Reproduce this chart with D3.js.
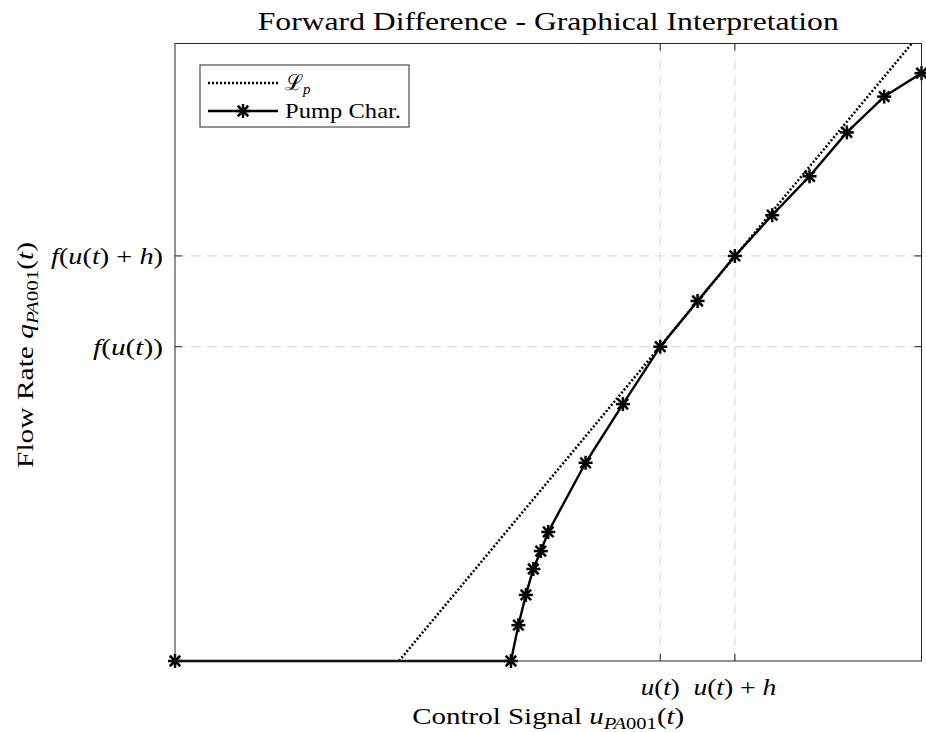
<!DOCTYPE html>
<html>
<head>
<meta charset="utf-8">
<script src="https://cdn.jsdelivr.net/npm/d3@7"></script>
<style>
  body { margin: 0; background: #fff; }
  text { font-family: "Liberation Serif", "DejaVu Serif", serif; fill: #000; }
</style>
</head>
<body>
<div id="chart"></div>
<script>
// pump characteristic (control signal vs flow rate, arbitrary units)
var pumpX = [0, 45, 46, 47, 48, 49, 50, 55, 60, 65, 70, 75, 80, 85, 90, 95, 100]
var pumpY = [0, 0, 5.8, 10.7, 14.9, 17.8, 20.9, 32.1, 41.6, 50.9, 58.3, 65.6, 72.2, 78.5, 85.6, 91.4, 95.2]

// secant line L_p
var lpX = [30.0, 98.7]
var lpY = [0, 100]

// tick positions
var xTicks = [65, 75]
var yTicks = [50.9, 65.6]

var W = 926, H = 732
var margin = {top: 43.5, left: 175, right: W - 921.5, bottom: H - 661}
var width = W - margin.left - margin.right,
    height = H - margin.top - margin.bottom

var svg = d3.select("#chart").append("svg")
  .attr("width", W)
  .attr("height", H)

var x = d3.scaleLinear().domain([0, 100]).range([0, width])
var y = d3.scaleLinear().domain([0, 100]).range([height, 0])

var g = svg.append("g").attr("transform", "translate(" + margin.left + "," + margin.top + ")")

// grid
g.selectAll(".gx").data(xTicks).enter().append("line")
  .attr("x1", d => x(d)).attr("x2", d => x(d))
  .attr("y1", 0).attr("y2", height)
  .style("stroke", "#dcdcdc").style("stroke-width", 1.2).style("stroke-dasharray", "10,6")
g.selectAll(".gy").data(yTicks).enter().append("line")
  .attr("y1", d => y(d)).attr("y2", d => y(d))
  .attr("x1", 0).attr("x2", width)
  .style("stroke", "#dcdcdc").style("stroke-width", 1.2).style("stroke-dasharray", "10,6")

// ticks (inward, on all four sides)
var tl = 7
xTicks.forEach(function(d) {
  g.append("line").attr("x1", x(d)).attr("x2", x(d)).attr("y1", height).attr("y2", height - tl)
    .style("stroke", "#262626")
  g.append("line").attr("x1", x(d)).attr("x2", x(d)).attr("y1", 0).attr("y2", tl)
    .style("stroke", "#262626")
})
yTicks.forEach(function(d) {
  g.append("line").attr("y1", y(d)).attr("y2", y(d)).attr("x1", 0).attr("x2", tl)
    .style("stroke", "#262626")
  g.append("line").attr("y1", y(d)).attr("y2", y(d)).attr("x1", width).attr("x2", width - tl)
    .style("stroke", "#262626")
})

// L_p dotted line
var lpData = lpX.map((d, i) => [d, lpY[i]])
var line = d3.line().x(d => x(d[0])).y(d => y(d[1]))
g.append("path")
  .datum(lpData)
  .attr("d", line)
  .style("fill", "none")
  .style("stroke", "#000")
  .style("stroke-width", 2.5)
  .style("stroke-dasharray", "2,2")

// pump char line
var pumpData = pumpX.map((d, i) => [d, pumpY[i]])
g.append("path")
  .datum(pumpData)
  .attr("d", line)
  .style("fill", "none")
  .style("stroke", "#000")
  .style("stroke-width", 2.4)

// asterisk markers
function asterisk(sel, r) {
  sel.append("line").attr("x1", -r).attr("x2", r).attr("y1", 0).attr("y2", 0)
  sel.append("line").attr("x1", 0).attr("x2", 0).attr("y1", -r).attr("y2", r)
  var k = r * 0.75
  sel.append("line").attr("x1", -k).attr("x2", k).attr("y1", -k).attr("y2", k)
  sel.append("line").attr("x1", -k).attr("x2", k).attr("y1", k).attr("y2", -k)
}
var marks = g.selectAll(".mk").data(pumpData).enter().append("g")
  .attr("transform", d => "translate(" + x(d[0]) + "," + y(d[1]) + ")")
  .style("stroke", "#000").style("stroke-width", 2.5)
marks.each(function() { asterisk(d3.select(this), 7) })

// axes box
g.append("rect")
  .attr("width", width).attr("height", height)
  .style("fill", "none").style("stroke", "#262626").style("stroke-width", 1)

function fit(sel, len) {
  sel.attr("textLength", len).attr("lengthAdjust", "spacingAndGlyphs")
}

// x tick labels
var xl = g.append("g").attr("transform", "translate(0," + (height + 34) + ")").style("font-size", "23px")
var t1 = xl.append("text").attr("x", x(xTicks[0])).attr("text-anchor", "middle")
t1.append("tspan").style("font-style", "italic").text("u")
t1.append("tspan").text("(")
t1.append("tspan").style("font-style", "italic").text("t")
t1.append("tspan").text(")")
fit(t1, 39)
var t2 = xl.append("text").attr("x", x(xTicks[1])).attr("text-anchor", "middle")
t2.append("tspan").style("font-style", "italic").text("u")
t2.append("tspan").text("(")
t2.append("tspan").style("font-style", "italic").text("t")
t2.append("tspan").text(") + ")
t2.append("tspan").style("font-style", "italic").text("h")
fit(t2, 83)

// y tick labels
var yl = g.append("g").style("font-size", "23px")
var s1 = yl.append("text").attr("x", -12).attr("y", y(yTicks[1]) + 8).attr("text-anchor", "end")
s1.append("tspan").style("font-style", "italic").text("f")
s1.append("tspan").text("(")
s1.append("tspan").style("font-style", "italic").text("u")
s1.append("tspan").text("(")
s1.append("tspan").style("font-style", "italic").text("t")
s1.append("tspan").text(") + ")
s1.append("tspan").style("font-style", "italic").text("h")
s1.append("tspan").text(")")
fit(s1, 112)
var s2 = yl.append("text").attr("x", -12).attr("y", y(yTicks[0]) + 8).attr("text-anchor", "end")
s2.append("tspan").style("font-style", "italic").text("f")
s2.append("tspan").text("(")
s2.append("tspan").style("font-style", "italic").text("u")
s2.append("tspan").text("(")
s2.append("tspan").style("font-style", "italic").text("t")
s2.append("tspan").text("))")
fit(s2, 70)

// subscript label helper
function subLabel(txt, pre, sym) {
  txt.append("tspan").text(pre)
  txt.append("tspan").style("font-style", "italic").text(sym)
  txt.append("tspan").style("font-style", "italic").style("font-size", "17px").attr("dy", 5).text("PA")
  txt.append("tspan").style("font-size", "17px").text("001")
  txt.append("tspan").attr("dy", -5).text("(")
  txt.append("tspan").style("font-style", "italic").text("t")
  txt.append("tspan").text(")")
}

// x label
var xt = svg.append("text")
  .attr("x", margin.left + width / 2).attr("y", 724)
  .attr("text-anchor", "middle").style("font-size", "24px")
subLabel(xt, "Control Signal ", "u")
fit(xt, 272)

// y label
var yt = svg.append("text")
  .attr("transform", "translate(33," + 355 + ") rotate(-90)")
  .attr("text-anchor", "middle").style("font-size", "24px")
subLabel(yt, "Flow Rate ", "q")
fit(yt, 226)

// title
var tt = svg.append("text")
  .attr("x", margin.left + width / 2).attr("y", 30)
  .attr("text-anchor", "middle").style("font-size", "25px")
  .text("Forward Difference - Graphical Interpretation")
fit(tt, 581)

// legend
var lg = svg.append("g").attr("transform", "translate(200,65)")
lg.append("rect").attr("width", 209).attr("height", 62)
  .style("fill", "#fff").style("stroke", "#262626").style("stroke-width", 1)
lg.append("line").attr("x1", 8).attr("x2", 78).attr("y1", 18).attr("y2", 18)
  .style("stroke", "#000").style("stroke-width", 2.5).style("stroke-dasharray", "2,2")
lg.append("line").attr("x1", 8).attr("x2", 78).attr("y1", 46).attr("y2", 46)
  .style("stroke", "#000").style("stroke-width", 2.4)
var lm = lg.append("g").attr("transform", "translate(43,46)").style("stroke", "#000").style("stroke-width", 2.5)
asterisk(lm, 7)
var lt1 = lg.append("text").attr("x", 85).attr("y", 25).style("font-size", "22px")
lt1.append("tspan").style("font-family", "'DejaVu Serif', serif").text("\u2112")
lt1.append("tspan").style("font-style", "italic").style("font-size", "15px").attr("dy", 4).text("p")
var lt2 = lg.append("text").attr("x", 85).attr("y", 53).style("font-size", "22px").text("Pump Char.")
fit(lt2, 116)
</script>
</body>
</html>
